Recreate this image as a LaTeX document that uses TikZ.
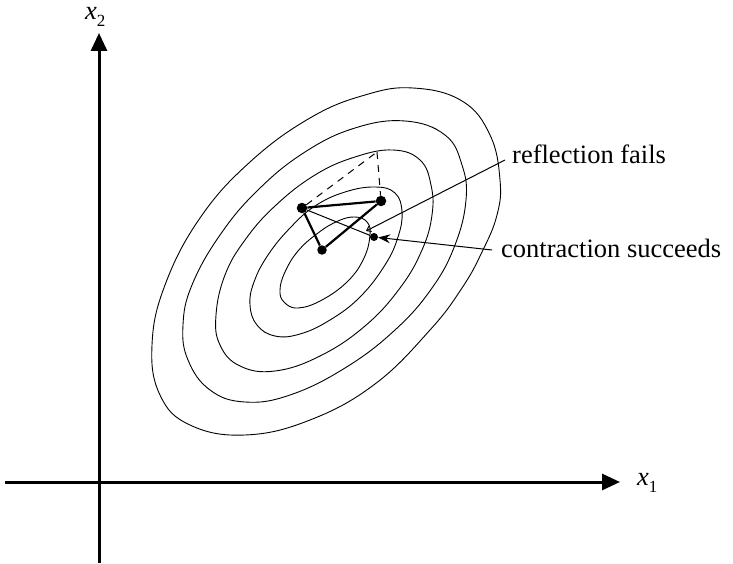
\documentclass[tikz,border=0pt]{standalone}
\usepackage{fontspec}
\setmainfont{Liberation Serif}
\usetikzlibrary{arrows.meta}
\begin{document}
\begin{tikzpicture}[x=1pt,y=-1pt,
  contour/.style={line width=0.9pt},
  axis/.style={line width=3pt,-{Triangle[length=18pt,width=16pt]}},
  vertex/.style={circle,fill=black,inner sep=0pt,minimum size=10.5pt},
  smallvertex/.style={circle,fill=black,inner sep=0pt,minimum size=8pt},
  simplex/.style={line width=2.2pt},
  thinline/.style={line width=1pt},
  dashline/.style={line width=1pt,dash pattern=on 7pt off 6pt},
  txt/.style={font=\fontsize{26.5}{30}\selectfont,inner sep=0pt},
]
\useasboundingbox (0,0) rectangle (733,564);
% contours
\draw[contour] plot[smooth cycle,tension=0.7] coordinates {
 (413,88) (462,101) (490,135) (500,180) (497,215) (482,252) (462,288) (430,330)
 (375,384) (310,420) (245,435) (190,425) (160,395) (152,345) (165,285) (200,218)
 (250,162) (310,118) (365,95)};
\draw[contour] plot[smooth cycle,tension=0.7] coordinates {
 (405,121) (445,135) (462,165) (466,200) (455,245) (432,288) (395,330) (345,368)
 (290,395) (245,402) (210,390) (188,360) (183,325) (192,285) (220,235) (258,190)
 (305,152) (355,128)};
\draw[contour] plot[smooth cycle,tension=0.7] coordinates {
 (393,150) (420,160) (431,185) (432,215) (422,250) (400,288) (365,326) (320,356)
 (275,371) (240,366) (220,345) (216,315) (225,275) (245,240) (275,206) (315,175)
 (355,157)};
\draw[contour] plot[smooth cycle,tension=0.7] coordinates {
 (375,187) (395,193) (402,212) (398,237) (385,265) (360,297) (330,320) (300,334)
 (275,336) (257,325) (250,305) (254,282) (268,255) (290,228) (315,206) (345,192)};
\draw[contour] plot[smooth cycle,tension=0.7] coordinates {
 (355,217) (367,222) (370,235) (364,258) (348,281) (322,300) (298,308) (284,302)
 (280,290) (285,272) (298,251) (318,233) (338,221)};
% axes
\coordinate (yb) at (99,563);
\coordinate (yt) at (99,33);
\coordinate (xl) at (5,482);
\coordinate (xr) at (620,482);
\draw[axis] (yb) -- (yt);
\draw[axis] (xl) -- (xr);
\node[txt,anchor=base west] (x2) at (85,20) {\textit{x}\raisebox{-7pt}{\fontsize{17}{17}\selectfont 2}};
\node[txt,anchor=base west] (x1) at (637,485) {\textit{x}\raisebox{-7pt}{\fontsize{17}{17}\selectfont 1}};
% simplex
\node[vertex] (p1) at (302,208) {};
\node[vertex] (p2) at (381,201) {};
\node[vertex,minimum size=9.5pt] (p3) at (322,250) {};
\node[smallvertex] (c) at (374,237) {};
\coordinate (r) at (377,152);
\draw[dashline] (p1) -- (r);
\draw[dashline] (r) -- (p2);
\draw[simplex] (p1) -- (p2);
\draw[simplex] (p2) -- (p3);
\draw[simplex] (p3) -- (p1);
\draw[thinline] (p1) -- (c);
% labels and leaders
\node[txt,anchor=base west] (rf) at (512,164) {reflection fails};
\node[txt,anchor=base west] (cs) at (501,257) {contraction succeeds};
\coordinate (rfend) at (505,160);
\coordinate (rftip) at (366,231);
\coordinate (csend) at (492,250);
\draw[thinline,-{Straight Barb[length=4pt,width=6pt]}] (rfend) -- (rftip);
\draw[thinline,-{Stealth[length=12pt,width=9pt,inset=4pt]}] (csend) -- (c);
\end{tikzpicture}
\end{document}
